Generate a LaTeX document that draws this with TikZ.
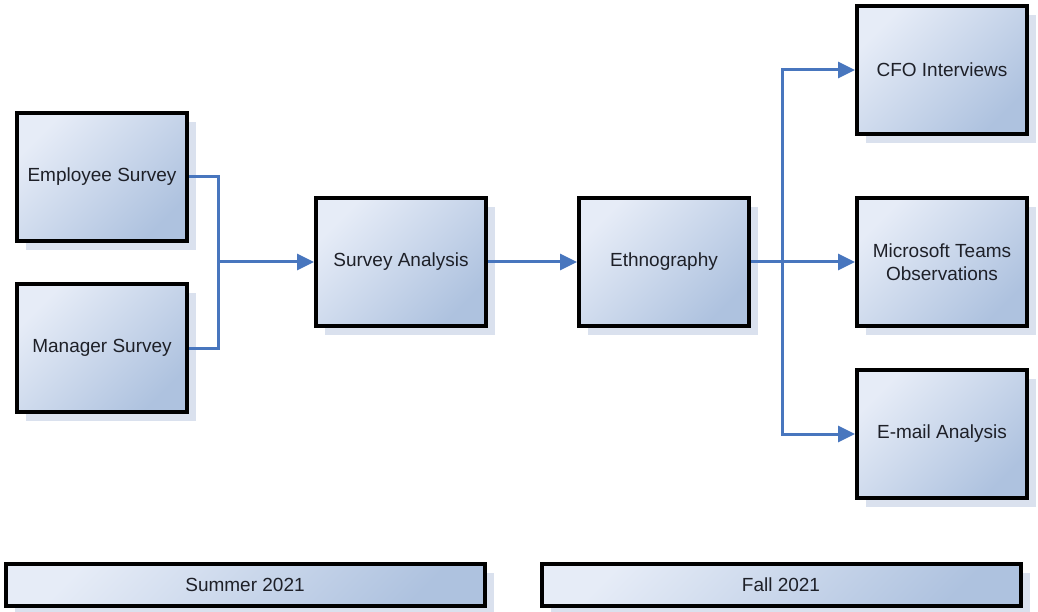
\documentclass[tikz,border=0pt]{standalone}
\usepackage{fontspec}
\setmainfont{Liberation Sans}
\usetikzlibrary{arrows.meta, shadows}
\definecolor{boxlight}{RGB}{230, 236, 247}
\definecolor{boxdark}{RGB}{174, 194, 223}
\definecolor{boxshadow}{RGB}{218, 225, 238}
\definecolor{flowblue}{RGB}{72, 118, 190}
\definecolor{labelgray}{RGB}{30, 32, 40}

\begin{document}
\begin{tikzpicture}[
    x=1pt, y=-1pt,
    >={Triangle[length=17pt, width=16pt]},
    stage/.style={rectangle, draw=black, line width=4pt,
        left color=boxlight, right color=boxdark, shading angle=45,
        drop shadow={shadow xshift=9pt, shadow yshift=-9pt, fill=boxshadow, opacity=1},
        text=labelgray, font=\fontsize{19}{23}\selectfont, align=center,
        minimum width=170pt, minimum height=128pt},
    period/.style={stage, minimum width=479pt, minimum height=42pt},
    flow/.style={draw=flowblue, line width=3pt},
    arrow/.style={flow, ->}
]
\useasboundingbox (0, 0) rectangle (1038, 612);

% === Summer: surveys ===
\node[stage] (emp) at (102, 177) {Employee Survey};
\node[stage] (mgr) at (102, 348) {Manager Survey};
\node[stage] (sa) at (401, 262) {Survey Analysis};

% === Fall: qualitative ===
\node[stage] (eth) at (664, 262) {Ethnography};
\node[stage] (cfo) at (942, 70) {CFO Interviews};
\node[stage] (teams) at (942, 262) {Microsoft Teams\\Observations};
\node[stage] (mail) at (942, 434) {E-mail Analysis};

% === Periods ===
\node[period] (summer) at (245, 585) {Summer 2021};
\node[period] (fall) at (781, 585) {Fall 2021};

% Connectors
\coordinate (join) at (218, 262);
\coordinate (fork) at (782, 262);
\draw[flow] (emp.east) -| (join);
\draw[flow] (mgr.east) -| (join);
\draw[arrow] (join) -- (sa.west);
\draw[arrow] (sa.east) -- (eth.west);
\draw[flow] (eth.east) -- (fork);
\draw[arrow] (fork) |- (cfo.west);
\draw[arrow] (fork) -- (teams.west);
\draw[arrow] (fork) |- (mail.west);

\end{tikzpicture}
\end{document}
